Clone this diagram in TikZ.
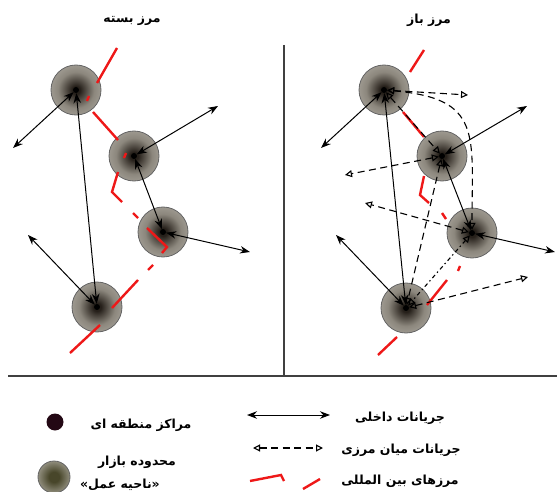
\documentclass[tikz,border=0pt]{standalone}
\usepackage{fontspec}
\newfontfamily\farsi[Script=Arabic]{DejaVu Sans}
\newfontfamily\quotefont{DejaVu Sans}
\TeXXeTstate=1
\usetikzlibrary{arrows.meta}
\definecolor{mkdark}{RGB}{38,32,26}
\definecolor{mkmid}{RGB}{140,135,125}
\definecolor{mkpale}{RGB}{178,174,166}
\definecolor{mklight}{RGB}{202,200,194}
\definecolor{mkedge}{RGB}{100,100,100}
\definecolor{keydark}{RGB}{72,70,42}
\definecolor{keylight}{RGB}{190,187,178}
\definecolor{dotc}{RGB}{35,8,20}
\definecolor{bordred}{RGB}{238,24,24}
\pgfdeclareradialshading{marketshade}{\pgfpoint{0bp}{0bp}}{color(0bp)=(mkdark); color(4bp)=(mkdark); color(18bp)=(mkmid); color(34bp)=(mkpale); color(50bp)=(mklight)}
\pgfdeclareradialshading{keyshade}{\pgfpoint{0bp}{0bp}}{color(0bp)=(keydark); color(8bp)=(keydark); color(36bp)=(keylight); color(50bp)=(keylight)}
\pgfdeclareradialshading{dotshade}{\pgfpoint{0bp}{0bp}}{color(0bp)=(dotc); color(32bp)=(dotc); color(50bp)=(white)}
\begin{document}
\begin{tikzpicture}[x=1pt, y=-1pt,
  market/.style={circle, minimum size=50pt, inner sep=0pt, draw=mkedge, line width=0.8pt, shading=marketshade},
  hub/.style={circle, fill=black, inner sep=0pt, minimum size=6pt},
  flow/.style={{Stealth[length=10pt,width=7.5pt]}-{Stealth[length=10pt,width=7.5pt]}, line width=1pt},
  xflow/.style={{Triangle[open,length=7pt,width=7pt]}-{Triangle[open,length=7pt,width=7pt]}, line width=1.1pt, dash pattern=on 7pt off 4.5pt},
  border/.style={bordred, line width=2.4pt},
  txt/.style={font=\farsi\bfseries\fontsize{12.5}{15}\selectfont, inner sep=1pt}]
\useasboundingbox (0,0) rectangle (557,492);
\clip (0,0) rectangle (557,492);
% panels
\draw[black!75, line width=1.2pt] (284,45) -- (284,376);
\draw[black!75, line width=1.2pt] (8,376) -- (557,376);
\node[txt] (head0) at (132,21){\beginR مرز بسته\endR};
\node[txt] (head1) at (429,20){\beginR مرز باز\endR};
% closed border
\node[market] (lm0) at (76,90){};
\node[market] (lm1) at (134,156){};
\node[market] (lm2) at (163,232){};
\node[market] (lm3) at (97,307){};
\draw[border] (117,48) -- (97,83);
\draw[border] (89,96) -- (87,101);
\draw[border] (93,112) -- (118,140);
\draw[border] (126,153) -- (124,158);
\draw[border] (118,172) -- (112,192) -- (122,202);
\draw[border] (133,213) -- (138,218);
\draw[border] (147,228) -- (167,247) -- (162,253);
\draw[border] (148,270) -- (153,265);
\draw[border] (138,280) -- (112,308);
\draw[border] (100,325) -- (70,353);
\node[hub] (l0) at (76,90){};
\node[hub] (l1) at (134,156){};
\node[hub] (l2) at (163,232){};
\node[hub] (l3) at (97,307){};
\coordinate (lw0) at (13,148);
\coordinate (lw1) at (218,106);
\coordinate (lw2) at (250,252);
\coordinate (lw3) at (28,235);
\draw[flow](l0) -- (lw0);
\draw[flow](l0) -- (l3);
\draw[flow](l1) -- (lw1);
\draw[flow](l1) -- (l2);
\draw[flow](l2) -- (lw2);
\draw[flow](l3) -- (lw3);
% open border
\node[market] (rm0) at (384,90){};
\node[market] (rm1) at (442,156){};
\node[market] (rm2) at (472,233){};
\node[market] (rm3) at (406,308){};
\draw[border] (424,50) -- (410,72);
\draw[border] (403,112) -- (424,137);
\draw[border] (424,176) -- (420,195) -- (429,203);
\draw[border] (442,213) -- (446,219);
\draw[border] (460,266) -- (458,271);
\draw[border] (447,280) -- (427,305);
\draw[border] (397,337) -- (378,355);
\node[hub] (r0) at (384,90){};
\node[hub] (r1) at (442,156){};
\node[hub] (r2) at (472,233){};
\node[hub] (r3) at (406,308){};
\coordinate (rw0) at (321,148);
\coordinate (rw1) at (527,106);
\coordinate (rw2) at (555,252);
\coordinate (rw3) at (336,235);
\coordinate (rx0) at (468,95);
\coordinate (rx1) at (345,175);
\coordinate (rx2) at (365,203);
\coordinate (rx3) at (528,277);
\draw[xflow](r0) -- (rx0);
\draw[xflow](r0) to[out=-5, in=90, looseness=1.5] (r2);
\draw[xflow](r0) -- (r1);
\draw[xflow](r1) -- (rx1);
\draw[xflow](r2) -- (rx2);
\draw[xflow](r1) -- (r3);
\draw[xflow, dash pattern=on 4pt off 3pt on 1.5pt off 3pt](r2) -- (r3);
\draw[xflow](r3) -- (rx3);
\draw[flow](r0) -- (rw0);
\draw[flow](r0) -- (r3);
\draw[flow](r1) -- (rw1);
\draw[flow](r1) -- (r2);
\draw[flow](r2) -- (rw2);
\draw[flow](r3) -- (rw3);
% legend
\node[circle, minimum size=17pt, inner sep=0pt, shading=dotshade] (keyhub) at (55,422){};
\node[circle, minimum size=32pt, inner sep=0pt, draw=mkedge, line width=0.8pt, shading=keyshade] (keymarket) at (54,477){};
\node[txt] (keytxt0) at (141,425){\beginR مراکز منطقه ای\endR};
\node[txt] (keytxt1) at (137,462){\beginR محدوده بازار\endR};
\node[txt] (keytxt2) at (120,485){{\quotefont\bfseries «}\beginR ناحیه عمل\endR{\quotefont\bfseries »}};
\coordinate (ka0) at (247,415);
\coordinate (kb0) at (330,415);
\coordinate (ka1) at (253,448);
\coordinate (kb1) at (323,448);
\draw[flow](ka0) -- (kb0);
\draw[xflow](ka1) -- (kb1);
\draw[border] (250,481) -- (281,475) -- (284,481);
\draw[border] (303,489) -- (320,479);
\node[txt] (keytxt3) at (400,418){\beginR جریانات داخلی\endR};
\node[txt] (keytxt4) at (401,450){\beginR جریانات میان مرزی\endR};
\node[txt] (keytxt5) at (400,481){\beginR مرزهای بین المللی\endR};
\end{tikzpicture}
\end{document}
